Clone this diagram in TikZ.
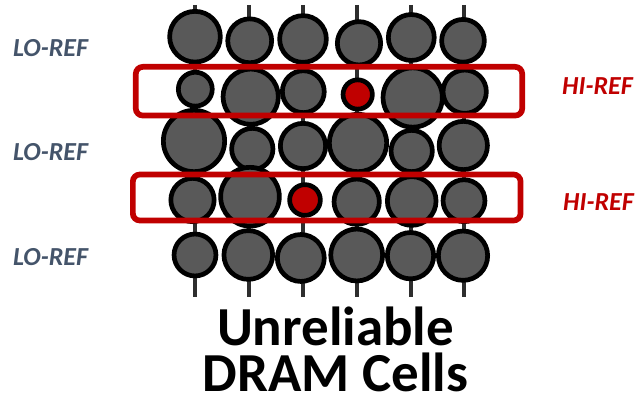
\documentclass[tikz,border=0pt]{standalone}
\usepackage{fontspec}
\setmainfont{Carlito}
\definecolor{cellgray}{HTML}{595959}
\definecolor{refred}{HTML}{C00000}
\definecolor{loblue}{HTML}{44546A}
\definecolor{stickgray}{HTML}{2E2E2E}
\tikzset{
  cell/.style={circle, draw=black, line width=4.7pt, fill=cellgray, inner sep=0pt},
  badcell/.style={cell, fill=refred},
  stick/.style={draw=stickgray, line width=3.3pt},
  refbox/.style={draw=refred, line width=5.7pt, rounded corners=7pt, inner sep=0pt},
  lolabel/.style={font=\fontsize{26}{26}\selectfont\bfseries\itshape, text=loblue, anchor=base west, inner sep=0pt},
  hilabel/.style={font=\fontsize{26}{26}\selectfont\bfseries\itshape, text=refred, anchor=base west, inner sep=0pt},
  title/.style={font=\fontsize{55}{46}\selectfont\bfseries, text=black, align=center, anchor=base, inner sep=0pt}
}
\begin{document}
\begin{tikzpicture}[x=1pt, y=-1pt]
\useasboundingbox (0,0) rectangle (637,404);
% bit lines
\foreach \x [count=\k] in {195,249,303,357,411,464} {
  \coordinate (top\k) at (\x,5);
  \coordinate (bot\k) at (\x,297);
  \draw[stick] (top\k) -- (bot\k);
}
% row 1
\foreach \x/\y/\r [count=\k] in {195/36.7/27.7, 249.7/40.8/24.3, 303/39/25.7, 359/43.3/24, 411.3/37.5/25.3, 463/40.8/23.7}
  \node[cell, minimum size={2*\r pt-4.7pt}] (ra\k) at (\x,\y) {};
% row 2
\foreach \x/\y/\r [count=\k] in {195.3/89.2/19.3, 250.7/96.7/30, 303.3/91.7/23.3, 412.7/97.5/32, 464.7/91.7/24}
  \node[cell, minimum size={2*\r pt-4.7pt}] (rb\k) at (\x,\y) {};
\node[badcell, minimum size={2*17pt-4.7pt}] (weak1) at (357.7,94.5) {};
% row 3
\foreach \x/\y/\r [count=\k] in {194/141/33, 252.3/149/23, 303/146/25, 358/143/31, 411.7/151/23, 463.3/145.5/26.5}
  \node[cell, minimum size={2*\r pt-4.7pt}] (rc\k) at (\x,\y) {};
% row 4
\foreach \x/\y/\r [count=\k] in {192.5/200/24, 250/196.7/31.7, 356.7/201.7/25, 411.7/201/26.7, 464/200.7/23.3}
  \node[cell, minimum size={2*\r pt-4.7pt}] (rd\k) at (\x,\y) {};
\node[badcell, minimum size={2*17.7pt-4.7pt}] (weak2) at (305,200) {};
% row 5
\foreach \x/\y/\r [count=\k] in {195/255/23.3, 248.3/255/26.7, 300.8/258/25.8, 356.7/255/28.3, 410.5/255.7/25.5, 463/255.7/27}
  \node[cell, minimum size={2*\r pt-4.7pt}] (re\k) at (\x,\y) {};
% refresh boxes
\node[refbox, minimum width=386.4pt, minimum height=48.7pt] (hibox1) at (329,91.2) {};
\node[refbox, minimum width=387.7pt, minimum height=46pt] (hibox2) at (326.7,197.5) {};
% labels
\node[lolabel] (lo1) at (13,57) {LO-REF};
\node[lolabel] (lo2) at (13,160) {LO-REF};
\node[lolabel] (lo3) at (13,265) {LO-REF};
\node[hilabel] (hi1) at (562,95) {HI-REF};
\node[hilabel] (hi2) at (563,210) {HI-REF};
% title
\node[title] (title) at (335.5,391) {Unreliable\\DRAM Cells};
\end{tikzpicture}
\end{document}
